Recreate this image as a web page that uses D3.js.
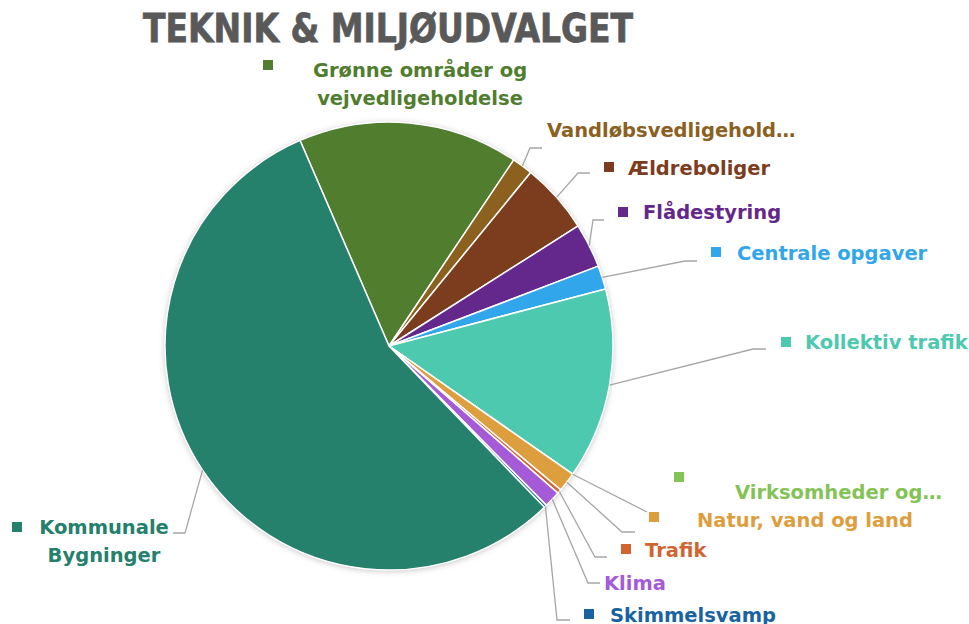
<!DOCTYPE html>
<html>
<head>
<meta charset="utf-8">
<script src="https://cdn.jsdelivr.net/npm/d3@7"></script>
<style>
  html, body { margin: 0; padding: 0; background: #fff; }
  svg { display: block; }
</style>
</head>
<body>
<div id="chart"></div>
<script>
// Data (share of budget, %), clockwise from the first slice
const categories = [
  "Grønne områder og vejvedligeholdelse",
  "Vandløbsvedligehold…",
  "Ældreboliger",
  "Flådestyring",
  "Centrale opgaver",
  "Kollektiv trafik",
  "Virksomheder og…",
  "Natur, vand og land",
  "Trafik",
  "Klima",
  "Skimmelsvamp",
  "Kommunale Bygninger"
];
const values = [15.9, 1.5, 5.1, 3.2, 1.7, 13.8, 0.0, 1.4, 0.3, 1.2, 0.2, 55.7];
const colors = [
  "#507D2E", "#8C601E", "#7C3D1E", "#64288C", "#32A6EB", "#4CC9AE",
  "#84C356", "#DD9E3E", "#D26432", "#A55AD7", "#1964A0", "#25806C"
];
const title = "TEKNIK & MILJØUDVALGET";

// label layout: text lines, text anchor, marker, leader elbow/end
const labelLayout = {
  "Grønne områder og vejvedligeholdelse": { lines: ["Grønne områder og", "vejvedligeholdelse"], tx: 420, ty: 70, anchor: "middle", marker: [268, 65], leader: null },
  "Vandløbsvedligehold…": { lines: ["Vandløbsvedligehold…"], tx: 547, ty: 130, anchor: "start", marker: null, leader: [[530, 148], [542, 148]] },
  "Ældreboliger": { lines: ["Ældreboliger"], tx: 628, ty: 168, anchor: "start", marker: [609, 167], leader: [[578, 173], [590, 173]] },
  "Flådestyring": { lines: ["Flådestyring"], tx: 643, ty: 212, anchor: "start", marker: [623, 212], leader: [[593, 220], [604, 220]] },
  "Centrale opgaver": { lines: ["Centrale opgaver"], tx: 737, ty: 253, anchor: "start", marker: [716, 252], leader: [[685, 261], [697, 261]] },
  "Kollektiv trafik": { lines: ["Kollektiv trafik"], tx: 805, ty: 342, anchor: "start", marker: [786, 342], leader: [[753, 349], [766, 349]] },
  "Virksomheder og…": { lines: ["Virksomheder og…"], tx: 735, ty: 492, anchor: "start", marker: [679, 477], leader: [[647, 512], [647, 512]] },
  "Natur, vand og land": { lines: ["Natur, vand og land"], tx: 697, ty: 520, anchor: "start", marker: [654, 517], leader: [[622, 532], [635, 532]] },
  "Trafik": { lines: ["Trafik"], tx: 645, ty: 550, anchor: "start", marker: [626, 549], leader: [[595, 557], [607, 557]] },
  "Klima": { lines: ["Klima"], tx: 604, ty: 583, anchor: "start", marker: null, leader: [[588, 583], [600, 583]] },
  "Skimmelsvamp": { lines: ["Skimmelsvamp"], tx: 610, ty: 615, anchor: "start", marker: [589, 614], leader: [[557, 620], [570, 620]] },
  "Kommunale Bygninger": { lines: ["Kommunale", "Bygninger"], tx: 104, ty: 527, anchor: "middle", marker: [17, 527], leader: [[185, 533], [173, 533]] }
};

const width = 969;
const height = 624;
const cx = 389, cy = 346, radius = 224;
const startDeg = -23.4;
const labelFont = "'DejaVu Sans', sans-serif";

const data = categories.map((c, i) => ({ name: c, value: values[i], color: colors[i] }));

const svg = d3.select("#chart").append("svg")
  .attr("width", width)
  .attr("height", height);

const defs = svg.append("defs");
const shadow = defs.append("filter")
  .attr("id", "pie-shadow")
  .attr("x", "-10%").attr("y", "-10%")
  .attr("width", "120%").attr("height", "120%");
shadow.append("feDropShadow")
  .attr("dx", 0).attr("dy", 1)
  .attr("stdDeviation", 3)
  .attr("flood-color", "#000")
  .attr("flood-opacity", 0.25);

// Title
svg.append("text")
  .attr("x", 388)
  .attr("y", 42)
  .attr("text-anchor", "middle")
  .attr("font-family", labelFont)
  .attr("font-weight", 700)
  .attr("font-size", "39px")
  .attr("fill", "#595959")
  .attr("stroke", "#595959")
  .attr("stroke-width", 0.8)
  .attr("textLength", 490)
  .attr("lengthAdjust", "spacingAndGlyphs")
  .text(title);

const pie = d3.pie()
  .value(d => d.value)
  .sort(null)
  .startAngle(startDeg * Math.PI / 180)
  .endAngle((startDeg + 360) * Math.PI / 180);

const arc = d3.arc().innerRadius(0).outerRadius(radius);
const arcs = pie(data);

const g = svg.append("g")
  .attr("transform", `translate(${cx},${cy})`);

g.append("circle")
  .attr("r", radius)
  .attr("fill", "#fff")
  .attr("filter", "url(#pie-shadow)");

g.selectAll("path.slice")
  .data(arcs)
  .join("path")
  .attr("class", "slice")
  .attr("d", arc)
  .attr("fill", d => d.data.color)
  .attr("stroke", "#fff")
  .attr("stroke-width", 1.5)
  .attr("stroke-linejoin", "round");

// Leader lines
const edgePoint = d => {
  const a = (d.startAngle + d.endAngle) / 2;
  return [cx + Math.sin(a) * radius, cy - Math.cos(a) * radius];
};

svg.selectAll("polyline.leader")
  .data(arcs.filter(d => labelLayout[d.data.name].leader))
  .join("polyline")
  .attr("class", "leader")
  .attr("points", d => [edgePoint(d)].concat(labelLayout[d.data.name].leader).map(p => p.join(",")).join(" "))
  .attr("fill", "none")
  .attr("stroke", "#a6a6a6")
  .attr("stroke-width", 1.3);

// Labels
const labels = svg.selectAll("g.label")
  .data(data)
  .join("g")
  .attr("class", "label");

labels.filter(d => labelLayout[d.name].marker)
  .append("rect")
  .attr("x", d => labelLayout[d.name].marker[0] - 5)
  .attr("y", d => labelLayout[d.name].marker[1] - 5)
  .attr("width", 10)
  .attr("height", 10)
  .attr("fill", d => d.color);

labels.append("text")
  .attr("x", d => labelLayout[d.name].tx)
  .attr("y", d => labelLayout[d.name].ty)
  .attr("text-anchor", d => labelLayout[d.name].anchor)
  .attr("dominant-baseline", "central")
  .attr("font-family", labelFont)
  .attr("font-weight", 700)
  .attr("font-size", "19.5px")
  .attr("fill", d => d.color)
  .selectAll("tspan")
  .data(d => labelLayout[d.name].lines.map((t, i) => ({ t, i, x: labelLayout[d.name].tx })))
  .join("tspan")
  .attr("x", t => t.x)
  .attr("dy", t => t.i === 0 ? 0 : 28)
  .text(t => t.t);
</script>
</body>
</html>
